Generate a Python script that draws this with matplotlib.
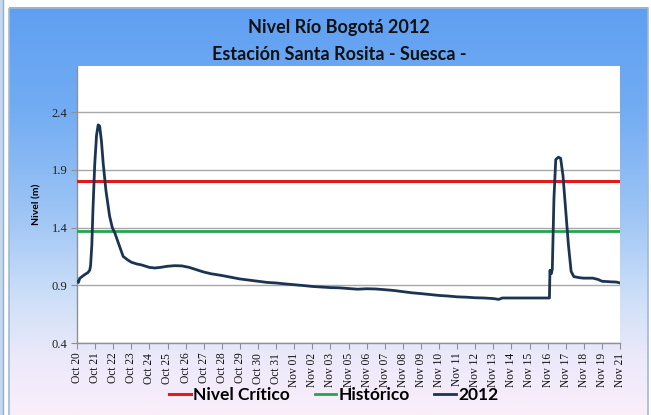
import numpy as np
import matplotlib
matplotlib.use("Agg")
import matplotlib.pyplot as plt
from matplotlib.colors import LinearSegmentedColormap
from matplotlib.lines import Line2D
from matplotlib.patches import Rectangle

# ---- data ----
tick_labels = ["Oct 20", "Oct 21", "Oct 22", "Oct 23", "Oct 24", "Oct 25", "Oct 26",
               "Oct 27", "Oct 28", "Oct 29", "Oct 30", "Oct 31", "Nov 01", "Nov 02",
               "Nov 03", "Nov 05", "Nov 06", "Nov 07", "Nov 08", "Nov 09", "Nov 10",
               "Nov 11", "Nov 12", "Nov 13", "Nov 14", "Nov 15", "Nov 16", "Nov 17",
               "Nov 18", "Nov 19", "Nov 21"]

# position along the category axis (in tick units) and level (m)
t_2012 = [0.0, 0.08, 0.15, 0.4, 0.6, 0.7, 0.75, 0.82, 0.88, 0.98, 1.08, 1.17, 1.25,
          1.35, 1.45, 1.6, 1.8, 1.95, 2.1, 2.3, 2.55, 2.8, 3.0, 3.3, 3.6, 4.0, 4.3,
          4.6, 5.0, 5.4, 5.8, 6.2, 6.6, 7.0, 7.4, 8.0, 8.5, 9.0, 9.5, 10.0, 10.5,
          11.0, 11.5, 12.0, 12.5, 13.0, 13.5, 14.0, 14.5, 15.0, 15.5, 16.0, 16.5,
          17.0, 17.5, 18.0, 18.5, 19.0, 19.5, 20.0, 20.5, 21.0, 21.5, 22.0, 22.5,
          23.0, 23.3, 23.5, 24.0, 25.0, 26.0, 26.1, 26.13, 26.2, 26.26, 26.35,
          26.45, 26.6, 26.72, 26.85, 27.0, 27.15, 27.3, 27.45, 27.8, 28.0, 28.5,
          28.8, 29.0, 29.5, 29.8, 30.0]
nivel_2012 = [0.935, 0.925, 0.96, 0.99, 1.01, 1.03, 1.07, 1.25, 1.55, 1.95, 2.20, 2.29,
              2.28, 2.15, 1.95, 1.72, 1.50, 1.40, 1.35, 1.26, 1.15, 1.12, 1.10, 1.085,
              1.075, 1.055, 1.05, 1.055, 1.065, 1.07, 1.068, 1.055, 1.035, 1.015, 1.0,
              0.985, 0.97, 0.955, 0.945, 0.935, 0.925, 0.92, 0.912, 0.905, 0.898, 0.89,
              0.885, 0.88, 0.878, 0.872, 0.866, 0.87, 0.868, 0.862, 0.855, 0.845, 0.835,
              0.828, 0.82, 0.812, 0.807, 0.80, 0.797, 0.792, 0.79, 0.785, 0.778, 0.79,
              0.79, 0.79, 0.79, 0.79, 1.03, 1.0, 1.04, 1.65, 1.99, 2.01, 2.0, 1.85,
              1.55, 1.25, 1.02, 0.975, 0.965, 0.962, 0.962, 0.95, 0.935, 0.93, 0.928,
              0.92]

nivel_critico = 1.80
historico = 1.37

y_ticks = [0.4, 0.9, 1.4, 1.9, 2.4]
y_limits = (0.4, 2.8)

# ---- figure ----
W, H = 651, 415
fig = plt.figure(figsize=(W / 100, H / 100), dpi=100)
fig.patch.set_facecolor("white")

bg = fig.add_axes([0, 0, 1, 1])
bg.set_xlim(0, W)
bg.set_ylim(H, 0)
bg.axis("off")
cmap = LinearSegmentedColormap.from_list(
    "panel", [(0.0, "#5f9ff2"), (0.25, "#72acf3"), (0.5, "#9cc4f5"),
              (0.72, "#cfe0f8"), (0.86, "#ece9fa"), (1.0, "#fbeefb")])
grad = np.linspace(0, 1, 256).reshape(-1, 1)
bg.imshow(grad, cmap=cmap, aspect="auto", extent=[9, 648, 415, 8], zorder=1)
bg.add_patch(Rectangle((9, 8), 639, 410, fill=False, edgecolor="#9fbad6", lw=1.2, zorder=2))
bg.add_patch(Rectangle((0, 0), 4, H, facecolor="#c6d8ee", edgecolor="none", zorder=2))
bg.plot([2.5, 2.5], [0, H], color="#8eaed6", lw=1, zorder=3)

ax = fig.add_axes([77 / W, 1 - 343 / H, (620 - 77) / W, (343 - 66) / H])
ax.set_facecolor("white")

x_ticks = np.arange(len(tick_labels))
ax.axhline(nivel_critico, color="#e01b1b", lw=2.2, zorder=3)
ax.axhline(historico, color="#23a550", lw=2.0, zorder=3)
ax.plot(t_2012, nivel_2012, color="#1c3453", lw=2.0, zorder=4, solid_joinstyle="round")

ax.set_xlim(0, len(tick_labels) - 1)
ax.set_ylim(*y_limits)
ax.set_yticks(y_ticks)
ax.set_yticklabels([f"{v:.1f}" for v in y_ticks], family="Liberation Serif", fontsize=9,
                   color="#222222")
ax.set_xticks(x_ticks)
ax.set_xticklabels(tick_labels, rotation=90, family="Liberation Serif", fontsize=8.3,
                   color="#111111")
ax.grid(axis="y", color="#a8a8a8", lw=1)
ax.set_axisbelow(True)
for s in ["top", "right"]:
    ax.spines[s].set_visible(False)
for s in ["left", "bottom"]:
    ax.spines[s].set_color("#909090")
    ax.spines[s].set_linewidth(1)
ax.tick_params(axis="both", length=4, color="#909090", pad=3)
ax.set_ylabel("Nivel (m)", family="Lato", fontweight="bold", fontsize=7.5)
ax.yaxis.set_label_coords(-0.066, 0.5)

fig.text(339 / W, 1 - 27 / H, "Nivel Río Bogotá 2012", ha="center", va="center",
         family="Lato", fontweight="bold", fontsize=13, color="#111111")
fig.text(339 / W, 1 - 54 / H, "Estación Santa Rosita - Suesca -", ha="center",
         va="center", family="Lato", fontweight="bold", fontsize=13, color="#111111")

handles = [Line2D([], [], color="#e01b1b", lw=2.2),
           Line2D([], [], color="#23a550", lw=2.0),
           Line2D([], [], color="#1c3453", lw=2.0)]
fig.legend(handles, ["Nivel Crítico", "Histórico", "2012"], loc="center",
           bbox_to_anchor=(334 / W, 1 - 395 / H), ncol=3, frameon=False,
           prop={"family": "Lato", "weight": "bold", "size": 12.5},
           handlelength=1.25, handletextpad=0.15, columnspacing=1.4)

fig.savefig("out.png", dpi=100)
